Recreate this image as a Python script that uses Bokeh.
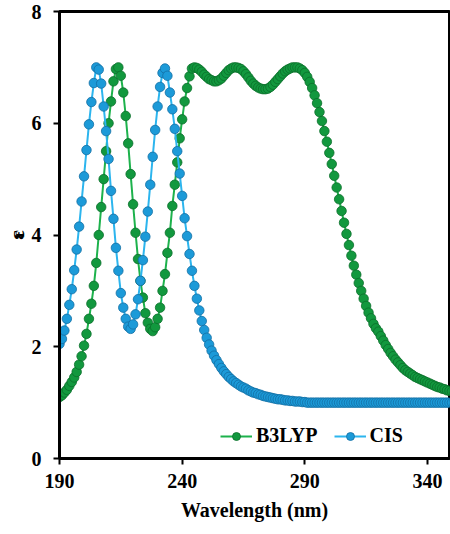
from bokeh.plotting import figure
from bokeh.models import Range1d, FixedTicker, Legend, LegendItem, LinearAxis
from bokeh.embed import file_html
from bokeh.resources import INLINE

# Wavelength grid (nm), 1 nm step
wavelength = list(range(190, 351))

# Transition energy spectrum, B3LYP
b3lyp = [
    1.10, 1.13, 1.18, 1.23, 1.30, 1.37, 1.45, 1.55, 1.68, 1.83,
    2.02, 2.23, 2.50, 2.77, 3.09, 3.50, 4.00, 4.50, 5.00, 5.50,
    6.00, 6.39, 6.75, 6.97, 7.00, 6.85, 6.55, 6.13, 5.64, 5.09,
    4.55, 4.04, 3.57, 3.18, 2.88, 2.60, 2.43, 2.32, 2.28, 2.35,
    2.50, 2.70, 3.00, 3.30, 3.68, 4.04, 4.52, 4.90, 5.30, 5.73,
    6.07, 6.39, 6.63, 6.84, 6.98, 7.00, 6.99, 6.96, 6.92, 6.87,
    6.83, 6.79, 6.77, 6.75, 6.75, 6.77, 6.80, 6.85, 6.90, 6.95,
    6.98, 7.00, 7.00, 6.99, 6.97, 6.93, 6.88, 6.82, 6.76, 6.71,
    6.67, 6.64, 6.62, 6.61, 6.61, 6.62, 6.65, 6.69, 6.74, 6.79,
    6.84, 6.89, 6.93, 6.96, 6.98, 7.00, 7.00, 7.00, 6.98, 6.95,
    6.90, 6.83, 6.74, 6.63, 6.50, 6.36, 6.20, 6.04, 5.86, 5.67,
    5.47, 5.27, 5.06, 4.85, 4.64, 4.43, 4.22, 4.02, 3.82, 3.63,
    3.45, 3.29, 3.14, 3.00, 2.86, 2.73, 2.61, 2.51, 2.41, 2.33,
    2.27, 2.19, 2.11, 2.03, 1.96, 1.89, 1.83, 1.77, 1.72, 1.67,
    1.62, 1.58, 1.55, 1.52, 1.49, 1.46, 1.44, 1.42, 1.40, 1.38,
    1.36, 1.34, 1.32, 1.30, 1.28, 1.27, 1.25, 1.24, 1.22, 1.21,
    1.20,
]

# Transition energy spectrum, CIS
cis = [
    2.05, 2.14, 2.29, 2.50, 2.75, 3.03, 3.37, 3.74, 4.15, 4.60,
    5.05, 5.52, 5.98, 6.38, 6.72, 7.00, 6.96, 6.71, 6.30, 5.86,
    5.36, 4.79, 4.29, 3.77, 3.36, 2.96, 2.70, 2.50, 2.36, 2.32,
    2.40, 2.58, 2.85, 3.18, 3.55, 3.97, 4.42, 4.90, 5.40, 5.88,
    6.30, 6.65, 6.90, 6.98, 6.85, 6.55, 6.25, 5.90, 5.50, 5.10,
    4.70, 4.30, 3.98, 3.66, 3.36, 3.09, 2.86, 2.65, 2.46, 2.30,
    2.16, 2.04, 1.93, 1.84, 1.76, 1.69, 1.62, 1.56, 1.51, 1.46,
    1.42, 1.38, 1.35, 1.32, 1.29, 1.27, 1.25, 1.22, 1.20, 1.18,
    1.17, 1.15, 1.14, 1.12, 1.11, 1.10, 1.09, 1.08, 1.07, 1.06,
    1.06, 1.05, 1.04, 1.04, 1.03, 1.03, 1.02, 1.02, 1.02, 1.01,
    1.01, 1.00, 1.00, 1.00, 1.00, 1.00, 1.00, 1.00, 1.00, 1.00,
    1.00, 1.00, 1.00, 1.00, 1.00, 1.00, 1.00, 1.00, 1.00, 1.00,
    1.00, 1.00, 1.00, 1.00, 1.00, 1.00, 1.00, 1.00, 1.00, 1.00,
    1.00, 1.00, 1.00, 1.00, 1.00, 1.00, 1.00, 1.00, 1.00, 1.00,
    1.00, 1.00, 1.00, 1.00, 1.00, 1.00, 1.00, 1.00, 1.00, 1.00,
    1.00, 1.00, 1.00, 1.00, 1.00, 1.00, 1.00, 1.00, 1.00, 1.00,
    1.00,
]

x_ticks = [190, 240, 290, 340]
y_ticks = [0, 2, 4, 6, 8]

FONT = "Liberation Serif"

p = figure(width=450, height=534, output_backend="svg", toolbar_location=None,
           x_range=Range1d(190, 349), y_range=Range1d(0, 8),
           min_border_left=57, min_border_right=1, min_border_top=11,
           min_border_bottom=76)
# box around the plotting area
p.outline_line_color = "black"
p.outline_line_width = 3
p.outline_line_alpha = 1.0
p.xgrid.visible = False
p.ygrid.visible = False
p.background_fill_color = "white"
p.border_fill_color = "white"

for ax in (p.xaxis[0], p.yaxis[0]):
    ax.axis_line_width = 3
    ax.axis_line_color = "black"
    ax.major_tick_line_width = 2
    ax.major_tick_line_color = "black"
    ax.major_tick_in = 0
    ax.major_tick_out = 6
    ax.minor_tick_line_color = None
    ax.major_label_text_font = FONT
    ax.major_label_text_font_style = "bold"
    ax.major_label_text_font_size = "20px"
    ax.major_label_text_color = "black"

p.xaxis.ticker = FixedTicker(ticks=x_ticks)
p.yaxis.ticker = FixedTicker(ticks=y_ticks)
p.xaxis.major_label_standoff = 9
p.yaxis.major_label_standoff = 12
p.xaxis.axis_label = "Wavelength (nm)"
p.xaxis.axis_label_text_font = FONT
p.xaxis.axis_label_text_font_style = "bold"
p.xaxis.axis_label_text_font_size = "20px"
p.xaxis.axis_label_text_color = "black"
p.xaxis.axis_label_standoff = 8

# y-axis title: subscript "T" sits next to the tick labels,
# the epsilon on an outer, bare axis
p.yaxis.axis_label = "T"
p.yaxis.axis_label_text_font = FONT
p.yaxis.axis_label_text_font_style = "bold"
p.yaxis.axis_label_text_font_size = "13px"
p.yaxis.axis_label_text_color = "black"
p.yaxis.axis_label_standoff = 2

eps_axis = LinearAxis(ticker=FixedTicker(ticks=[]), axis_line_color=None,
                      major_tick_line_color=None, minor_tick_line_color=None,
                      major_tick_out=0, major_tick_in=0, major_label_standoff=0,
                      axis_label="ε", axis_label_text_font=FONT,
                      axis_label_text_font_style="bold",
                      axis_label_text_font_size="22px",
                      axis_label_text_color="black", axis_label_standoff=-20)
p.add_layout(eps_axis, "left")

GREEN_LINE, GREEN_FILL, GREEN_EDGE = "#1db24c", "#12983e", "#0b6e2b"
BLUE_LINE, BLUE_FILL, BLUE_EDGE = "#2cb5ee", "#1c9ad8", "#136fa3"

gl = p.line(wavelength, b3lyp, line_color=GREEN_LINE, line_width=2)
gs = p.scatter(wavelength, b3lyp, marker="circle", size=9.5,
               fill_color=GREEN_FILL, line_color=GREEN_EDGE, line_width=0.8)
bl = p.line(wavelength, cis, line_color=BLUE_LINE, line_width=2)
bs = p.scatter(wavelength, cis, marker="circle", size=9.5,
               fill_color=BLUE_FILL, line_color=BLUE_EDGE, line_width=0.8)

legend = Legend(items=[LegendItem(label="B3LYP", renderers=[gl, gs]),
                       LegendItem(label="CIS", renderers=[bl, bs])],
                orientation="horizontal", location=(161, 11),
                background_fill_alpha=0, border_line_color=None,
                label_text_font=FONT, label_text_font_style="bold",
                label_text_font_size="20px", label_text_color="black",
                glyph_width=32, glyph_height=20, label_standoff=4,
                spacing=16, padding=4, margin=0)
p.add_layout(legend)

open("out.html", "w").write(file_html(p, INLINE))
